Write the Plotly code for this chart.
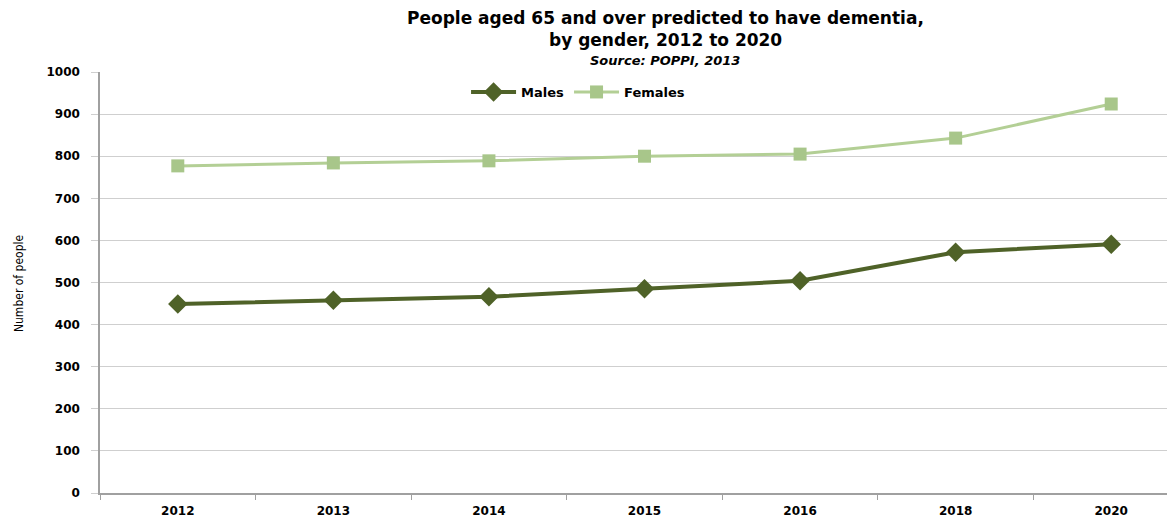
import plotly.graph_objects as go

years = ["2012", "2013", "2014", "2015", "2016", "2018", "2020"]
males = [449, 458, 466, 485, 504, 572, 591]
females = [777, 784, 789, 800, 805, 843, 924]
y_ticks = [0, 100, 200, 300, 400, 500, 600, 700, 800, 900, 1000]

fig = go.Figure()
fig.add_trace(go.Scatter(
    x=years, y=males, name="<b>Males</b>", mode="lines+markers",
    line=dict(color="#4F6228", width=4),
    marker=dict(symbol="diamond", size=15, color="#4F6228"),
))
fig.add_trace(go.Scatter(
    x=years, y=females, name="<b>Females</b>", mode="lines+markers",
    line=dict(color="#B3CF95", width=3),
    marker=dict(symbol="square", size=13, color="#A8C68A"),
))

title_lines = ["<b>People aged 65 and over predicted to have dementia,</b>",
               "<b>by gender, 2012 to 2020</b>"]
subtitle = "<b><i>Source: POPPI, 2013</i></b>"

# page body has an 8px default margin, so the figure is sized/placed to compensate
fig.update_layout(
    width=1167, height=509,
    margin=dict(l=92, r=0, t=64, b=24),
    paper_bgcolor="white", plot_bgcolor="white",
    font=dict(family="DejaVu Sans", color="black"),
    legend=dict(
        orientation="h", x=0.4447, xanchor="center", y=0.9525, yanchor="middle",
        font=dict(size=13, family="DejaVu Sans"), bgcolor="rgba(0,0,0,0)",
        itemwidth=45,
    ),
    showlegend=True,
    annotations=[
        dict(text=title_lines[0], xref="paper", yref="paper",
             x=0.5256, y=1.1283, xanchor="center", yanchor="middle", showarrow=False,
             font=dict(size=17, family="DejaVu Sans")),
        dict(text=title_lines[1], xref="paper", yref="paper",
             x=0.5256, y=1.076, xanchor="center", yanchor="middle", showarrow=False,
             font=dict(size=17, family="DejaVu Sans")),
        dict(text=subtitle, xref="paper", yref="paper",
             x=0.5256, y=1.0285, xanchor="center", yanchor="middle", showarrow=False,
             font=dict(size=13, family="DejaVu Sans")),
        dict(text="Number of people", xref="paper", yref="paper",
             x=-0.0753, y=0.4988, xanchor="center", yanchor="middle", showarrow=False,
             textangle=-90,
             font=dict(size=12, family="DejaVu Sans Condensed, Liberation Sans", color="black")),
    ],
)
fig.update_xaxes(
    type="category", range=[-0.5, 6.41],
    showgrid=False, showline=True, linecolor="#A0A0A0", linewidth=1.5,
    ticks="outside", ticklen=5, tickcolor="#A0A0A0", tickson="boundaries",
    tickfont=dict(size=12, family="DejaVu Sans"),
    tickprefix="<b>", ticksuffix="</b>",
    ticklabelstandoff=6,
)
fig.update_yaxes(
    range=[0, 1000], tickvals=y_ticks,
    ticktext=[f"<b>{v}</b>" for v in y_ticks],
    showgrid=True, gridcolor="#CFCFCF", gridwidth=1,
    showline=True, linecolor="#A0A0A0", linewidth=1.5,
    ticks="outside", ticklen=7, tickcolor="#CFCFCF",
    tickfont=dict(size=12, family="DejaVu Sans"),
    ticklabelstandoff=9,
    zeroline=False,
)
fig.write_html("out.html")
